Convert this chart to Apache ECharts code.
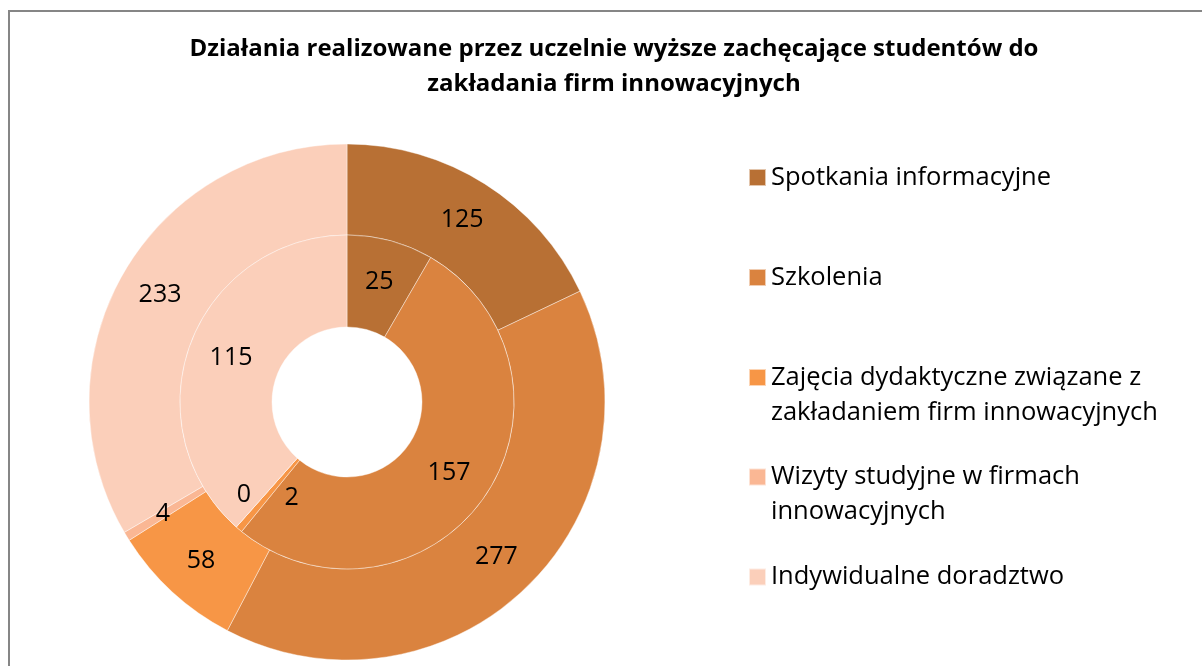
<!DOCTYPE html>
<html>
<head>
<meta charset="utf-8">
<script src="https://cdn.jsdelivr.net/npm/echarts@6/dist/echarts.min.js"></script>
<style>
html,body{margin:0;padding:0;background:#fff;}
#chart{width:1202px;height:666px;}
</style>
</head>
<body>
<div id="chart"></div>
<script>
const titleText = 'Działania realizowane przez uczelnie wyższe zachęcające studentów do\nzakładania firm innowacyjnych';
const categories = [
  'Spotkania informacyjne',
  'Szkolenia',
  'Zajęcia dydaktyczne związane z zakładaniem firm innowacyjnych',
  'Wizyty studyjne w firmach innowacyjnych',
  'Indywidualne doradztwo'
];
const legendLines = [
  ['Spotkania informacyjne'],
  ['Szkolenia'],
  ['Zajęcia dydaktyczne związane z', 'zakładaniem firm innowacyjnych'],
  ['Wizyty studyjne w firmach', 'innowacyjnych'],
  ['Indywidualne doradztwo']
];
const outerValues = [125, 277, 58, 4, 233];
const innerValues = [25, 157, 2, 0, 115];
const colors = ['#B87034', '#DA833F', '#F79646', '#FAB794', '#FBCFBA'];

const FONT = 'Open Sans';
const LH = 35;
const legendIconCenters = [177.5, 277.5, 377.5, 477, 577];

const legends = categories.map((name, i) => {
  const lines = legendLines[i];
  const multi = lines.length > 1;
  // for multi-line entries a leading empty line keeps the icon level with the first line
  const text = multi ? '\n' + lines.join('\n') : lines[0];
  const boxH = multi ? LH * 3 : LH;
  return {
    orient: 'vertical',
    left: 743,
    top: legendIconCenters[i] - boxH / 2 - 5,
    itemWidth: 17,
    itemHeight: 17,
    icon: 'rect',
    selectedMode: false,
    data: [name],
    formatter: () => text,
    textStyle: {
      fontFamily: FONT,
      fontSize: 25.5,
      color: '#000',
      lineHeight: LH
    }
  };
});

function makeData(values) {
  return categories.map((name, i) => ({ name: name, value: values[i], itemStyle: { color: colors[i] } }));
}

const labelStyle = {
  show: true,
  position: 'inside',
  formatter: '{c}',
  fontFamily: FONT,
  fontSize: 25,
  color: '#000'
};

const option = {
  animation: false,
  backgroundColor: '#fff',
  title: {
    text: titleText,
    left: 609,
    textAlign: 'center',
    top: 27,
    textStyle: {
      fontFamily: FONT,
      fontWeight: 'bold',
      fontSize: 24,
      lineHeight: 35,
      color: '#000'
    }
  },
  legend: legends,
  graphic: [{
    type: 'rect',
    shape: { x: 9, y: 11, width: 1250, height: 700 },
    style: { fill: 'none', stroke: '#868686', lineWidth: 2 },
    silent: true,
    z: 100
  }],
  series: [
    {
      name: 'Zewnętrzny',
      type: 'pie',
      center: [347, 402],
      radius: [167, 258],
      startAngle: 90,
      clockwise: true,
      avoidLabelOverlap: false,
      data: makeData(outerValues),
      label: labelStyle,
      labelLine: { show: false },
      itemStyle: { borderColor: 'rgba(255,255,255,0.6)', borderWidth: 0.7 },
      emphasis: { disabled: true }
    },
    {
      name: 'Wewnętrzny',
      type: 'pie',
      center: [347, 402],
      radius: [75, 167],
      startAngle: 90,
      clockwise: true,
      avoidLabelOverlap: false,
      minShowLabelAngle: 0,
      data: makeData(innerValues),
      label: labelStyle,
      labelLine: { show: false },
      labelLayout: function (params) {
        if (params.dataIndex === 2) return { dx: 25, dy: 1 };
        if (params.dataIndex === 3) return { dx: -21, dy: 0 };
        return {};
      },
      itemStyle: { borderColor: 'rgba(255,255,255,0.6)', borderWidth: 0.7 },
      emphasis: { disabled: true }
    }
  ]
};

const chart = echarts.init(document.getElementById('chart'), null, { renderer: 'canvas' });
chart.setOption(option);
</script>
</body>
</html>
